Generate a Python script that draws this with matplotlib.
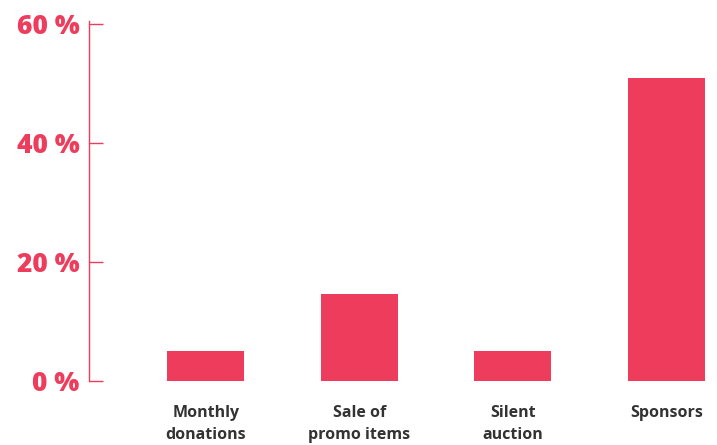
import matplotlib.pyplot as plt
import numpy as np

# funding sources, share in percent
categories = ["Monthly\ndonations", "Sale of\npromo items", "Silent\nauction", "Sponsors"]
shares = [5, 14.6, 5, 51]
yticks = [0, 20, 40, 60]
ytick_labels = ["0 %", "20 %", "40 %", "60 %"]

pink = "#EE3D5C"
dark = "#333333"

plt.rcParams['font.family'] = ['Open Sans', 'DejaVu Sans']

fig = plt.figure(figsize=(7.17, 4.45), dpi=100)
ax = fig.add_axes([89 / 717, 64 / 445, 1 - 89 / 717, 360 / 445])

x = np.arange(len(categories))
ax.bar(x, shares, width=0.5, color=pink)

ax.set_xlim(-0.76, 3.33)
ax.set_ylim(0, 60.5)

for side in ["top", "right", "bottom"]:
    ax.spines[side].set_visible(False)
ax.spines["left"].set_color(pink)
ax.spines["left"].set_linewidth(1)

ax.set_yticks(yticks)
ax.set_yticklabels(ytick_labels, fontsize=19, fontweight="heavy", color=pink)
ax.tick_params(axis="y", direction="in", length=10, width=1, color=pink, pad=7)

ax.set_xticks(x)
ax.set_xticklabels(categories, fontsize=11.5, fontweight="bold", color=dark, linespacing=1.5)
ax.tick_params(axis="x", length=0, pad=17)

fig.savefig("out.png", dpi=100)
